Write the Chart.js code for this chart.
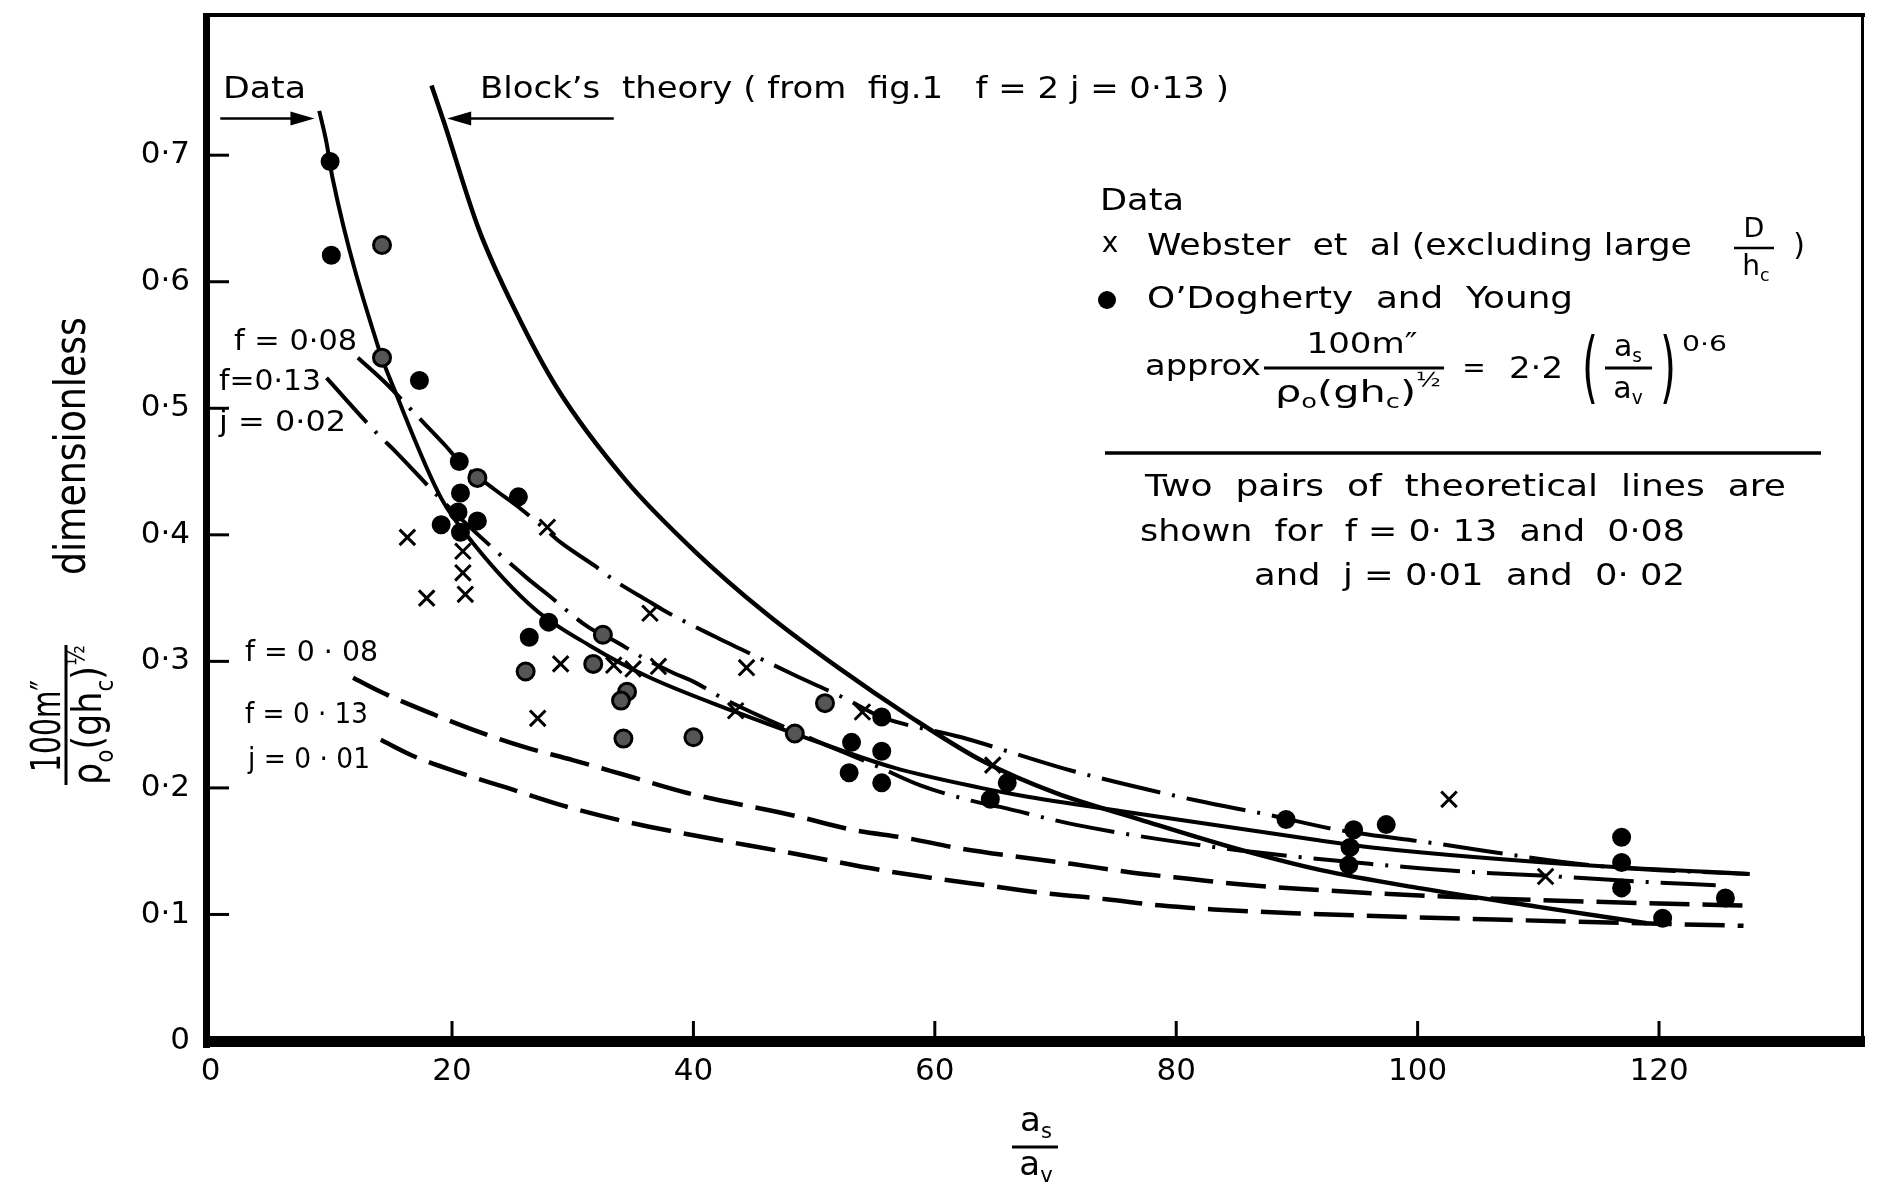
<!DOCTYPE html>
<html>
<head>
<meta charset="utf-8">
<script src="https://cdn.jsdelivr.net/npm/chart.js@4.4.1/dist/chart.umd.min.js"></script>
<style>
  html, body { margin: 0; padding: 0; background: #fff; }
  #wrap { width: 1877px; height: 1192px; }
</style>
</head>
<body>
<div id="wrap"><canvas id="c" width="1877" height="1192"></canvas></div>
<script>
const xTicks = [0, 20, 40, 60, 80, 100, 120];
const yTicks = [0, 0.1, 0.2, 0.3, 0.4, 0.5, 0.6, 0.7];

// x  Webster et al
const websterX = [16.3, 17.9, 20.9, 20.9, 21.1, 27.9, 27.1, 29.0, 33.4, 35.0, 37.1, 36.4, 44.4, 43.5, 54.0, 64.8, 102.6, 110.6];
const websterY = [0.398, 0.350, 0.387, 0.370, 0.353, 0.406, 0.255, 0.298, 0.297, 0.294, 0.296, 0.338, 0.295, 0.261, 0.260, 0.218, 0.191, 0.130];

// O'Dogherty and Young, solid dots
const doghertyX = [9.9, 10.0, 17.3, 20.6, 20.7, 25.5, 20.5, 19.1, 22.1, 20.7, 28.0, 26.4, 55.6, 53.1, 55.6, 52.9, 55.6, 66.0, 64.6, 89.1, 94.7, 94.4, 94.3, 97.4, 116.9, 116.9, 116.9, 120.3, 125.5];
const doghertyY = [0.695, 0.621, 0.522, 0.458, 0.433, 0.430, 0.418, 0.408, 0.411, 0.402, 0.331, 0.319, 0.256, 0.236, 0.229, 0.212, 0.204, 0.204, 0.191, 0.175, 0.167, 0.153, 0.139, 0.171, 0.161, 0.141, 0.121, 0.097, 0.113];

// O'Dogherty and Young, greyish printed dots
const doghertyGreyX = [14.2, 14.2, 22.1, 32.5, 26.1, 31.7, 34.5, 34.0, 34.2, 40.0, 48.4, 50.9];
const doghertyGreyY = [0.629, 0.540, 0.445, 0.321, 0.292, 0.298, 0.276, 0.269, 0.239, 0.240, 0.243, 0.267];

// Block's theory
const blockX = [18.3, 19.3, 22.2, 25.3, 28.7, 34.4, 40, 46, 52, 58, 64, 70, 77, 85, 92, 100, 110, 119];
const blockY = [0.755, 0.727, 0.642, 0.576, 0.516, 0.443, 0.388, 0.338, 0.295, 0.256, 0.221, 0.196, 0.175, 0.152, 0.135, 0.121, 0.106, 0.093];

// line through the data
const dataFitX = [9.0, 9.6, 10.1, 13.9, 15.3, 19.1, 21.7, 26.9, 31.5, 36.2, 43.5, 49.5, 56.6, 63.8, 67.1, 75.9, 91.5, 96.2, 115.3, 127.5];
const dataFitY = [0.735, 0.710, 0.682, 0.548, 0.513, 0.429, 0.394, 0.341, 0.312, 0.288, 0.260, 0.239, 0.216, 0.200, 0.194, 0.181, 0.159, 0.153, 0.138, 0.132];

// j = 0.02 (dash-dot)
const f08j02X = [12.2, 14.5, 17.0, 19.5, 20.6, 23.5, 25.5, 27.9, 29.0, 31.9, 33.6, 36.2, 37.6, 41.9, 44.3, 48.4, 52.5, 55.6, 62.2, 71.2, 81.7, 87.5, 93.3, 100.8, 115.3, 127.5];
const f08j02Y = [0.540, 0.520, 0.495, 0.470, 0.458, 0.436, 0.422, 0.403, 0.394, 0.375, 0.363, 0.348, 0.340, 0.319, 0.308, 0.289, 0.271, 0.256, 0.240, 0.214, 0.190, 0.179, 0.167, 0.157, 0.138, 0.132];
const f13j02X = [9.6, 13.9, 15.3, 19.3, 22.4, 26.2, 27.9, 31.3, 33.7, 35.8, 38.3, 40.0, 42.6, 49.5, 55.0, 58.8, 63.0, 65.4, 71.6, 84.1, 92.7, 96.0, 103.7, 111.7, 118.4, 124.7];
const f13j02Y = [0.524, 0.479, 0.466, 0.426, 0.398, 0.366, 0.353, 0.327, 0.315, 0.303, 0.291, 0.284, 0.270, 0.240, 0.218, 0.202, 0.190, 0.185, 0.171, 0.152, 0.143, 0.140, 0.134, 0.130, 0.126, 0.123];

// j = 0.01 (dashed)
const f08j01X = [11.8, 14.3, 18.5, 22.0, 26.1, 30.0, 34.4, 39.5, 48.4, 53.1, 57.9, 61.6, 66.5, 71.3, 76.4, 81.2, 86.2, 91.5, 96.8, 106.4, 118.6, 127.5];
const f08j01Y = [0.287, 0.275, 0.258, 0.245, 0.232, 0.222, 0.210, 0.196, 0.178, 0.167, 0.160, 0.153, 0.146, 0.140, 0.133, 0.128, 0.123, 0.1195, 0.1165, 0.1125, 0.109, 0.107];
const f13j01X = [14.1, 16.6, 20.6, 24.6, 29.2, 34.1, 39.2, 48.4, 55.6, 59.7, 64.3, 69.0, 74.2, 78.8, 83.1, 89.7, 106.4, 127.0];
const f13j01Y = [0.238, 0.226, 0.212, 0.200, 0.186, 0.174, 0.164, 0.148, 0.135, 0.129, 0.123, 0.117, 0.112, 0.107, 0.104, 0.101, 0.096, 0.091];

const FONT = '"DejaVu Sans"';
const pts = (xs, ys) => xs.map((x, i) => ({ x, y: ys[i] }));

const curve = (label, xs, ys, width, dash) => ({
  label, data: pts(xs, ys), showLine: true,
  pointRadius: 0, pointHoverRadius: 0,
  borderColor: '#000', borderWidth: width, borderDash: dash,
  cubicInterpolationMode: 'monotone', fill: false, order: 2
});

const dots = (label, xs, ys, style, fill, r, bw) => ({
  label, data: pts(xs, ys), showLine: false,
  pointStyle: style, pointRadius: r, pointBorderWidth: bw,
  pointBackgroundColor: fill, pointBorderColor: '#000', order: 0
});

function txt(ctx, s, x, y, size, o = {}) {
  ctx.save();
  ctx.font = `${size}px ${FONT}`;
  ctx.textBaseline = o.base || 'middle';
  ctx.textAlign = 'left';
  const w = ctx.measureText(s).width;
  const sx = o.w ? o.w / w : 1;
  const al = o.align || 'left';
  const left = al === 'center' ? -w * sx / 2 : al === 'right' ? -w * sx : 0;
  ctx.translate(x, y);
  if (o.rot) ctx.rotate(o.rot);
  ctx.translate(left, 0);
  ctx.scale(sx, 1);
  ctx.fillText(s, 0, 0);
  ctx.restore();
}

function rich(ctx, parts, x, y, size, o = {}) {
  const k = { n: [1, 0], sub: [0.62, 0.3], sup: [0.62, -0.42] };
  ctx.save();
  ctx.textBaseline = o.base || 'middle';
  ctx.textAlign = 'left';
  let total = 0;
  const ws = parts.map(([s, t]) => {
    ctx.font = `${size * k[t][0]}px ${FONT}`;
    const w = ctx.measureText(s).width;
    total += w;
    return w;
  });
  const sx = o.w ? o.w / total : 1;
  const al = o.align || 'left';
  const left = al === 'center' ? -total * sx / 2 : al === 'right' ? -total * sx : 0;
  ctx.translate(x, y);
  if (o.rot) ctx.rotate(o.rot);
  ctx.translate(left, 0);
  ctx.scale(sx, 1);
  let cx = 0;
  parts.forEach(([s, t], i) => {
    ctx.font = `${size * k[t][0]}px ${FONT}`;
    ctx.fillText(s, cx, size * k[t][1]);
    cx += ws[i];
  });
  ctx.restore();
}

function seg(ctx, x0, y0, x1, y1, lw) {
  ctx.lineWidth = lw;
  ctx.beginPath();
  ctx.moveTo(x0, y0);
  ctx.lineTo(x1, y1);
  ctx.stroke();
}

function arrow(ctx, x0, y0, x1, y1) {
  const d = Math.sign(x1 - x0);
  seg(ctx, x0, y0, x1 - d * 20, y1, 2.5);
  ctx.beginPath();
  ctx.moveTo(x1, y1);
  ctx.lineTo(x1 - d * 24, y1 - 7);
  ctx.lineTo(x1 - d * 24, y1 + 7);
  ctx.closePath();
  ctx.fill();
}

// chart.js pads the plot for the end tick labels; the figure doesn't
const noPad = s => { s.paddingTop = 0; s.paddingBottom = 0; s.paddingLeft = 0; s.paddingRight = 0; };

const overlay = {
  id: 'overlay',
  afterDraw(chart) {
    const { ctx, chartArea: a, scales: { x, y } } = chart;
    ctx.save();
    ctx.fillStyle = '#000';
    ctx.strokeStyle = '#000';

    // frame
    ctx.fillRect(a.left - 4, a.top - 3, 7, a.bottom - a.top + 10);
    ctx.fillRect(a.left - 4, a.bottom - 5, a.right - a.left + 6, 11);
    ctx.fillRect(a.left - 4, a.top - 3, a.right - a.left + 6, 4);
    ctx.fillRect(a.right - 2, a.top - 3, 3, a.bottom - a.top + 6);

    // inward ticks
    yTicks.forEach(v => {
      if (!v) return;
      const py = y.getPixelForValue(v);
      seg(ctx, a.left, py, a.left + 22, py, 3);
    });
    xTicks.forEach(v => {
      if (!v) return;
      const px = x.getPixelForValue(v);
      seg(ctx, px, a.bottom, px, a.bottom - 20, 3);
    });

    // arrows to the two upper curves
    const ay = y.getPixelForValue(0.729);
    arrow(ctx, x.getPixelForValue(0.8), ay, x.getPixelForValue(8.6), ay);
    arrow(ctx, x.getPixelForValue(33.4), ay, x.getPixelForValue(19.6), ay);

    txt(ctx, 'Data', 223, 90, 30, { w: 83 });
    txt(ctx, 'Block\u2019s  theory ( from  fig.1   f = 2 j = 0\u00b713 )', 480, 90, 30, { w: 749 });

    // curve labels
    txt(ctx, 'f = 0\u00b708', 234, 342, 29, { w: 123 });
    txt(ctx, 'f=0\u00b713', 219, 382, 29, { w: 102 });
    txt(ctx, 'j = 0\u00b702', 219, 423, 29, { w: 127 });
    txt(ctx, 'f = 0 \u00b7 08', 245, 653, 29, { w: 133 });
    txt(ctx, 'f = 0 \u00b7 13', 245, 715, 29, { w: 123 });
    txt(ctx, 'j = 0 \u00b7 01', 248, 760, 29, { w: 122 });

    // key
    txt(ctx, 'Data', 1100, 202, 30, { w: 84 });
    txt(ctx, 'x', 1110, 245, 28, { align: 'center' });
    txt(ctx, 'Webster  et  al (excluding large', 1147, 247, 30, { w: 545 });
    txt(ctx, 'D', 1754, 230, 27, { align: 'center' });
    seg(ctx, 1734, 248, 1774, 248, 2.5);
    rich(ctx, [['h', 'n'], ['c', 'sub']], 1756, 268, 28, { align: 'center' });
    txt(ctx, ')', 1799, 247, 30, { align: 'center' });
    ctx.beginPath();
    ctx.arc(1107, 300, 9, 0, Math.PI * 2);
    ctx.fill();
    txt(ctx, 'O\u2019Dogherty  and  Young', 1147, 300, 30, { w: 426 });

    txt(ctx, 'approx', 1145, 368, 28, { w: 116 });
    txt(ctx, '100m\u2033', 1362, 346, 28, { align: 'center', w: 111 });
    seg(ctx, 1264, 368, 1444, 368, 3);
    rich(ctx, [['\u03c1', 'n'], ['o', 'sub'], ['(gh', 'n'], ['c', 'sub'], [')', 'n'], ['\u00bd', 'sup']], 1358, 394, 30, { align: 'center', w: 166 });
    txt(ctx, '=', 1474, 370, 28, { align: 'center' });
    txt(ctx, '2\u00b72', 1509, 370, 30, { w: 54 });
    txt(ctx, '(', 1590, 374, 78, { align: 'center', w: 16 });
    rich(ctx, [['a', 'n'], ['s', 'sub']], 1628, 348, 30, { align: 'center' });
    seg(ctx, 1605, 368, 1652, 368, 3);
    rich(ctx, [['a', 'n'], ['v', 'sub']], 1628, 390, 30, { align: 'center' });
    txt(ctx, ')', 1668, 374, 78, { align: 'center', w: 16 });
    txt(ctx, '0\u00b76', 1682, 345, 22, { w: 45 });

    seg(ctx, 1105, 453, 1821, 453, 3.5);
    txt(ctx, 'Two  pairs  of  theoretical  lines  are', 1145, 488, 30, { w: 641 });
    txt(ctx, 'shown  for  f = 0\u00b7 13  and  0\u00b708', 1140, 533, 30, { w: 545 });
    txt(ctx, 'and  j = 0\u00b701  and  0\u00b7 02', 1254, 577, 30, { w: 431 });

    // x axis title
    rich(ctx, [['a', 'n'], ['s', 'sub']], 1036, 1122, 34, { align: 'center' });
    seg(ctx, 1012, 1147, 1058, 1147, 3);
    rich(ctx, [['a', 'n'], ['v', 'sub']], 1036, 1166, 34, { align: 'center' });

    // y axis title (rotated)
    const up = -Math.PI / 2;
    txt(ctx, '100m\u2033', 60, 726, 40, { base: 'alphabetic', rot: up, align: 'center', w: 92 });
    seg(ctx, 66, 645, 66, 785, 3);
    rich(ctx, [['\u03c1', 'n'], ['o', 'sub'], ['(gh', 'n'], ['c', 'sub'], [')', 'n'], ['\u00bd', 'sup']], 101, 715, 40, { base: 'alphabetic', rot: up, align: 'center', w: 140 });
    txt(ctx, 'dimensionless', 85, 446, 42, { base: 'alphabetic', rot: up, align: 'center', w: 258 });

    ctx.restore();
  }
};

Chart.defaults.font.family = FONT;
Chart.defaults.color = '#000';

new Chart(document.getElementById('c'), {
  type: 'scatter',
  data: {
    datasets: [
      dots('Webster et al', websterX, websterY, 'crossRot', '#000', 11, 3),
      dots("O'Dogherty and Young", doghertyX, doghertyY, 'circle', '#000', 8.5, 2),
      dots("O'Dogherty and Young (grey print)", doghertyGreyX, doghertyGreyY, 'circle', '#555', 8.5, 3),
      curve("Block's theory", blockX, blockY, 4.5, []),
      curve('Data', dataFitX, dataFitY, 4, []),
      curve('f = 0.08, j = 0.02', f08j02X, f08j02Y, 4, [60, 12, 3, 12]),
      curve('f = 0.13, j = 0.02', f13j02X, f13j02Y, 4, [60, 12, 3, 12]),
      curve('f = 0.08, j = 0.01', f08j01X, f08j01Y, 4.5, [40, 13]),
      curve('f = 0.13, j = 0.01', f13j01X, f13j01Y, 4.5, [40, 13])
    ]
  },
  options: {
    responsive: false,
    animation: false,
    devicePixelRatio: 1,
    layout: { padding: { top: 16, right: 0, left: 0, bottom: 0 } },
    plugins: { legend: { display: false }, tooltip: { enabled: false } },
    scales: {
      x: {
        type: 'linear', min: -0.3, max: 136.9,
        grid: { display: false, drawTicks: false },
        border: { display: false },
        afterBuildTicks: s => { s.ticks = xTicks.map(v => ({ value: v })); },
        afterFit: s => { s.height = 151; noPad(s); },
        ticks: { padding: 12, font: { size: 31 }, maxRotation: 0, callback: v => String(v) }
      },
      y: {
        type: 'linear', min: 0, max: 0.81,
        grid: { display: false, drawTicks: false },
        border: { display: false },
        afterBuildTicks: s => { s.ticks = yTicks.map(v => ({ value: v })); },
        afterFit: s => { s.width = 207; noPad(s); },
        ticks: { padding: 17, font: { size: 31 }, callback: v => v === 0 ? '0' : v.toFixed(1).replace('.', '\u00b7') }
      }
    }
  },
  plugins: [overlay]
});
</script>
</body>
</html>
